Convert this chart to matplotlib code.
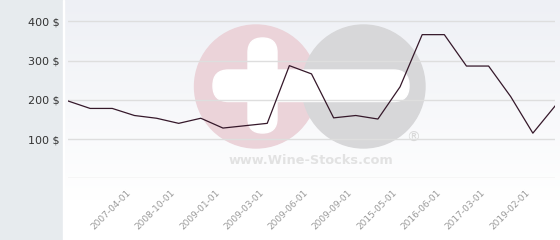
import numpy as np
import matplotlib
matplotlib.use("Agg")
import matplotlib.pyplot as plt
import matplotlib.transforms as mtransforms
from matplotlib.patches import Circle, FancyBboxPatch, Rectangle

# ---- data ----
prices = [197, 178, 178, 160, 153, 140, 153, 128, 134, 140, 287, 266,
          154, 160, 151, 233, 366, 366, 286, 286, 208, 115, 184]
tick_idx = [3, 5, 7, 9, 11, 13, 15, 17, 19, 21]
tick_labels = ["2007-04-01", "2008-10-01", "2009-01-01", "2009-03-01", "2009-06-01",
               "2009-09-01", "2015-05-01", "2016-06-01", "2017-03-01", "2019-02-01"]
y_ticks = [100, 200, 300, 400]
y_labels = ["100 $", "200 $", "300 $", "400 $"]

W, H = 560, 240
fig = plt.figure(figsize=(W / 100, H / 100), dpi=100)

def fx(px):
    return px / W

def fy(py):
    return 1 - py / H

# background: left panel + gradient area
bg = fig.add_axes([0, 0, 1, 1], zorder=0)
bg.set_xlim(0, W)
bg.set_ylim(H, 0)
bg.axis("off")
grad = np.linspace(0, 1, 256)[:, None]
top = np.array([0xee, 0xf0, 0xf5]) / 255
bot = np.array([1.0, 1.0, 1.0])
img = top[None, None, :] * (1 - grad[:, :, None]) + bot[None, None, :] * grad[:, :, None]
img = np.repeat(img, 2, axis=1)
bg.imshow(img, extent=[64, W, 200, 0], aspect="auto", zorder=0)
bg.add_patch(Rectangle((64, 200), W - 64, H - 200, color="white", zorder=0))
bg.add_patch(Rectangle((0, 0), 63, H, color="#e7ebee", zorder=1))
bg.add_patch(Rectangle((63, 0), 1, H, color="white", zorder=1))

# watermark
pink = "#ebd3d9"
gray = "#d7d7d9"
bg.add_patch(Circle((256, 86.5), 61.5, color=pink, zorder=2))
bg.add_patch(Circle((363.5, 86.5), 61.5, color=gray, zorder=2))
bg.add_patch(FancyBboxPatch((248 + 14.5, 38 + 14.5), 0, 95 - 29,
                            boxstyle="round,pad=14.5", color="white", zorder=3))
bg.add_patch(FancyBboxPatch((213 + 15.5, 70 + 15.5), 409 - 213 - 31, 0.5,
                            boxstyle="round,pad=15.5", color="white", zorder=3))
bg.text(311, 160, "www.Wine-Stocks.com", ha="center", va="center",
        fontsize=9.3, fontweight="bold", color="#e2e2e2", zorder=3)
bg.text(413, 138, "®", ha="center", va="center", fontsize=10,
        color="#d9d9d9", zorder=3)

# main axes
y0, y400 = 178.3, 21.3
ppu = (y0 - y400) / 400
ymax = y0 / ppu
ax = fig.add_axes([fx(68), fy(y0), fx(555 - 68), y0 / H], zorder=1)
ax.patch.set_alpha(0)
x = np.arange(len(prices))
ax.plot(x, prices, color="#35182a", lw=0.9, zorder=3)
ax.set_xlim(0, len(prices) - 1)
ax.set_ylim(0, ymax)
for s in ax.spines.values():
    s.set_visible(False)
for v in [0] + y_ticks:
    ax.axhline(v, color="#dedede", lw=1, zorder=1)
ax.set_yticks(y_ticks)
ax.set_yticklabels(y_labels, fontsize=8, color="#333333")
ax.set_xticks(tick_idx)
ax.set_xticklabels(tick_labels, rotation=45, ha="right", va="top",
                   rotation_mode="anchor", fontsize=6.5, color="#9a9a9a")
ax.tick_params(axis="y", length=0, pad=6)
ax.tick_params(axis="x", length=0, pad=7)
off = mtransforms.ScaledTranslation(-8 / 100, 0, fig.dpi_scale_trans)
for lab in ax.get_xticklabels():
    lab.set_transform(lab.get_transform() + off)

fig.savefig("out.png", dpi=100)
